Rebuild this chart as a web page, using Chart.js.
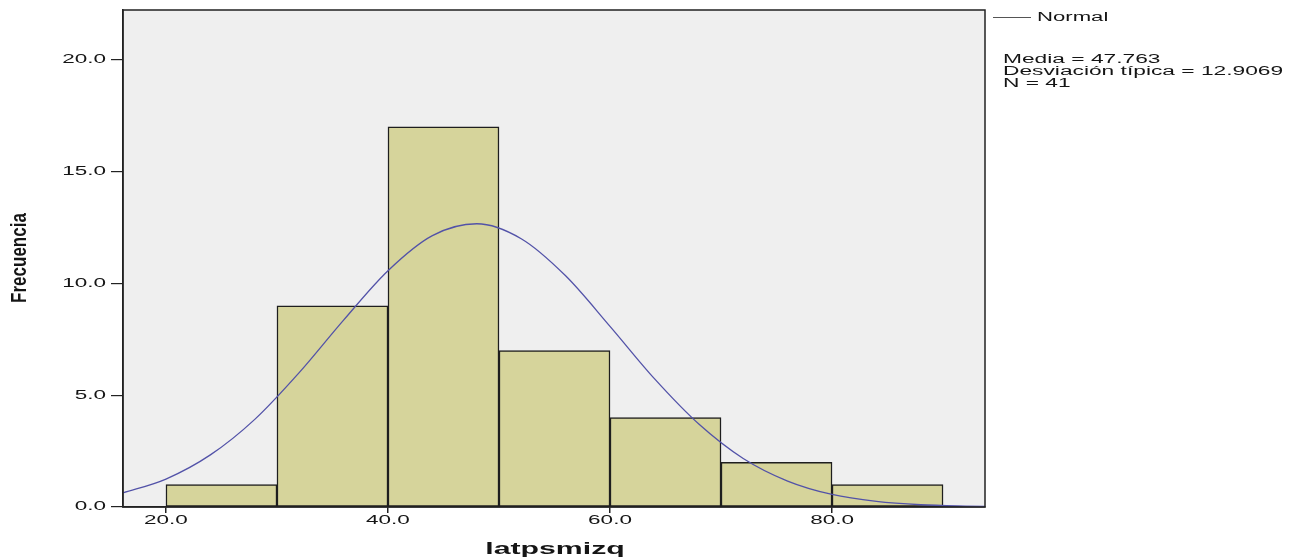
<!DOCTYPE html>
<html>
<head>
<meta charset="utf-8">
<title>latpsmizq</title>
<script src="https://cdn.jsdelivr.net/npm/chart.js@4.4.1/dist/chart.umd.min.js"></script>
<style>
  html, body { margin: 0; padding: 0; background: #fff; }
  canvas { display: block; }
</style>
</head>
<body>
<canvas id="histChart" width="1303" height="560"></canvas>
<script>
// Histogram of latpsmizq with fitted normal curve
const binStarts = [20, 30, 40, 50, 60, 70, 80];
const binWidth = 10;
const frequencies = [1, 9, 17, 7, 4, 2, 1];

// normal curve heights (frequency scale) read along x
const curveX = [16, 20, 24, 28, 32, 36, 40, 44, 48, 52, 56, 60, 64, 68, 72, 76, 80, 84, 88, 92, 96];
const curveY = [0.61, 1.25, 2.33, 3.92, 6.01, 8.36, 10.57, 12.14, 12.67, 12.00, 10.34, 8.08, 5.74, 3.71, 2.17, 1.16, 0.56, 0.25, 0.10, 0.04, 0.01];

const xTicks = [20, 40, 60, 80];
const yTicks = [0, 5, 10, 15, 20];
const statLines = ['Media = 47.763', 'Desviación típica = 12.9069', 'N = 41'];

const TEXT = '#151515';
const FONT = '"Liberation Sans", Arial, sans-serif';

// text is drawn wide, like the SPSS export
function wideText(ctx, str, x, y, font, sx, align) {
  ctx.save();
  ctx.translate(x, y);
  ctx.scale(sx, 1);
  ctx.font = font;
  ctx.fillStyle = TEXT;
  ctx.textAlign = align || 'left';
  ctx.textBaseline = 'middle';
  ctx.fillText(str, 0, 0);
  ctx.restore();
}

const spssDecor = {
  id: 'spssDecor',
  beforeDraw(chart) {
    const { ctx, chartArea: a } = chart;
    ctx.save();
    ctx.fillStyle = '#efefef';
    ctx.fillRect(a.left, a.top, a.right - a.left, a.bottom - a.top);
    ctx.restore();
  },
  afterDraw(chart) {
    const { ctx, chartArea: a, scales } = chart;
    // frame
    ctx.save();
    ctx.strokeStyle = '#222';
    ctx.lineWidth = 1.5;
    ctx.strokeRect(a.left, a.top, a.right - a.left, a.bottom - a.top);
    ctx.restore();

    // tick labels
    yTicks.forEach(v => {
      wideText(ctx, v.toFixed(1), 106, scales.y.getPixelForValue(v), '12.5px ' + FONT, 1.8, 'right');
    });
    xTicks.forEach(v => {
      wideText(ctx, v.toFixed(1), scales.x.getPixelForValue(v), 521, '12.5px ' + FONT, 1.8, 'center');
    });

    // axis titles
    wideText(ctx, 'latpsmizq', 555, 549, 'bold 17px ' + FONT, 1.78, 'center');
    ctx.save();
    ctx.translate(20, 258);
    ctx.rotate(-Math.PI / 2);
    ctx.scale(1, 1.25);
    ctx.font = 'bold 17px ' + FONT;
    ctx.fillStyle = TEXT;
    ctx.textAlign = 'center';
    ctx.textBaseline = 'middle';
    ctx.fillText('Frecuencia', 0, 0);
    ctx.restore();

    // legend
    ctx.save();
    ctx.strokeStyle = '#555';
    ctx.lineWidth = 1;
    ctx.beginPath();
    ctx.moveTo(993, 17.5);
    ctx.lineTo(1031, 17.5);
    ctx.stroke();
    ctx.restore();
    wideText(ctx, 'Normal', 1037, 18, '12.5px ' + FONT, 1.77, 'left');
    statLines.forEach((s, i) => {
      wideText(ctx, s, 1003, 60 + i * 12, '12.5px ' + FONT, 1.82, 'left');
    });
  }
};

const ctx = document.getElementById('histChart').getContext('2d');
const histChart = new Chart(ctx, {
  data: {
    datasets: [
      {
        type: 'line',
        label: 'Normal',
        data: curveX.map((x, i) => ({ x: x, y: curveY[i] })),
        borderColor: '#5252a8',
        borderWidth: 1.3,
        pointRadius: 0,
        cubicInterpolationMode: 'monotone',
        fill: false,
        order: 0
      },
      {
        type: 'bar',
        label: 'Frecuencia',
        data: binStarts.map((s, i) => ({ x: s + binWidth / 2, y: frequencies[i] })),
        backgroundColor: '#d6d49b',
        borderColor: '#1e1e1e',
        borderWidth: 1.5,
        borderSkipped: false,
        barPercentage: 1,
        categoryPercentage: 1,
        order: 1
      }
    ]
  },
  options: {
    responsive: false,
    animation: false,
    layout: { padding: { left: 0, right: 318, top: 10, bottom: 0 } },
    plugins: {
      legend: { display: false },
      tooltip: { enabled: false }
    },
    scales: {
      x: {
        type: 'linear',
        offset: false,
        min: 16.13,
        max: 93.78,
        afterBuildTicks: s => { s.ticks = xTicks.map(v => ({ value: v })); },
        afterFit: s => { s.height = 53; },
        ticks: { display: false },
        grid: { offset: false, drawOnChartArea: false, drawTicks: true, tickLength: 6, color: '#222', lineWidth: 1.5 },
        border: { display: true, color: '#222', width: 1.5 }
      },
      y: {
        type: 'linear',
        min: 0,
        max: 22.23,
        afterBuildTicks: s => { s.ticks = yTicks.map(v => ({ value: v })); },
        afterFit: s => { s.width = 123; },
        ticks: { display: false },
        grid: { drawOnChartArea: false, drawTicks: true, tickLength: 12, color: '#222', lineWidth: 1.2 },
        border: { display: true, color: '#222', width: 1.5 }
      }
    }
  },
  plugins: [spssDecor]
});
</script>
</body>
</html>
